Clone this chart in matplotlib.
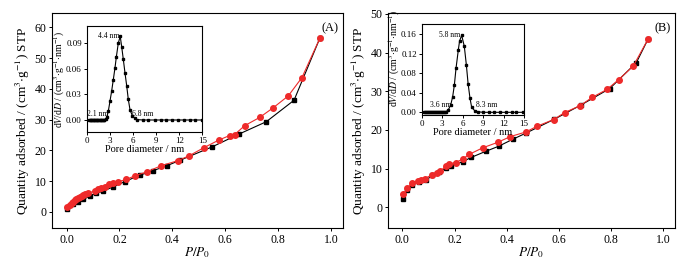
import matplotlib
matplotlib.use("Agg")
import matplotlib.pyplot as plt

plt.rcParams['font.family'] = ['Liberation Serif', 'DejaVu Serif']
plt.rcParams['mathtext.fontset'] = 'stix'

# ---------- Panel A data ----------
adsA_x = [0.003, 0.025, 0.044, 0.063, 0.088, 0.113, 0.138, 0.176, 0.22, 0.277,
          0.325, 0.38, 0.43, 0.55, 0.65, 0.755, 0.86, 0.957]
adsA_y = [0.8, 2.5, 3.3, 4.0, 5.1, 6.0, 6.7, 8.1, 9.8, 11.9,
          13.3, 15.0, 16.8, 21.1, 25.2, 29.3, 36.3, 56.4]
desA_x = [0.002, 0.012, 0.019, 0.025, 0.031, 0.037, 0.044, 0.05, 0.057, 0.063, 0.069, 0.08,
          0.107, 0.119, 0.132, 0.145, 0.161, 0.176, 0.195, 0.226, 0.258, 0.304,
          0.358, 0.42, 0.463, 0.518, 0.575, 0.616, 0.635, 0.673, 0.73, 0.782,
          0.838, 0.89, 0.957]
desA_y = [1.4, 2.2, 2.9, 3.3, 3.8, 4.0, 4.4, 4.7, 5.1, 5.4, 5.8, 6.1,
          6.7, 7.3, 7.6, 8.1, 8.9, 9.2, 9.8, 10.5, 11.7, 13.0,
          15.0, 16.6, 18.2, 20.8, 23.3, 24.8, 25.1, 28.0, 30.7, 33.9,
          37.7, 43.7, 56.4]

psdA_d = [0.3, 0.4, 0.5, 0.6, 0.7, 0.8, 0.9, 1.0, 1.1, 1.2, 1.3, 1.4, 1.5, 1.6, 1.7,
          1.8, 1.9, 2.0, 2.1, 2.2, 2.3, 2.45, 2.6, 2.8, 3.02, 3.24, 3.45, 3.67, 3.85,
          4.1, 4.35, 4.55, 4.75, 4.97, 5.19, 5.4, 5.62, 5.92, 6.27, 6.5, 7.3, 8.0,
          8.8, 9.6, 10.3, 11.1, 11.9, 12.6, 13.4, 14.1, 14.9]
psdA_v = [0.0, 0.0, 0.0, 0.0, 0.0, 0.0, 0.0, 0.0, 0.0, 0.0, 0.0, 0.0, 0.0, 0.0, 0.0,
          0.0, 0.0, 0.0, 0.0001, 0.0002, 0.0004, 0.0008, 0.003, 0.010, 0.022, 0.034,
          0.047, 0.061, 0.074, 0.090, 0.098, 0.085, 0.071, 0.055, 0.040, 0.024,
          0.012, 0.005, 0.002, 0.0005, 0.0, 0.0, 0.0, 0.0, 0.0, 0.0, 0.0, 0.0,
          0.0, 0.0, 0.0]

# ---------- Panel B data ----------
adsB_x = [0.003, 0.019, 0.038, 0.064, 0.09, 0.115, 0.141, 0.167, 0.186, 0.231,
          0.263, 0.32, 0.369, 0.423, 0.474, 0.583, 0.686, 0.795, 0.897, 0.942]
adsB_y = [2.1, 4.6, 5.9, 6.6, 7.0, 8.3, 9.2, 10.2, 10.7, 11.8,
          12.9, 14.5, 15.8, 17.6, 19.2, 22.8, 26.5, 30.7, 37.4, 43.5]
desB_x = [0.004, 0.019, 0.038, 0.06, 0.073, 0.085, 0.112, 0.132, 0.145, 0.167, 0.18,
          0.205, 0.231, 0.256, 0.308, 0.365, 0.414, 0.474, 0.517, 0.58, 0.622,
          0.682, 0.727, 0.785, 0.829, 0.885, 0.942]
desB_y = [3.4, 4.9, 6.4, 6.8, 7.0, 7.4, 8.4, 9.0, 9.3, 10.7, 11.3,
          11.6, 12.5, 13.7, 15.4, 16.8, 18.3, 19.5, 21.0, 22.7, 24.5,
          26.3, 28.4, 30.5, 33.0, 36.5, 43.5]

psdB_d = [0.3, 0.45, 0.6, 0.75, 0.9, 1.05, 1.2, 1.35, 1.5, 1.65, 1.8, 1.95, 2.1, 2.25,
          2.4, 2.55, 2.7, 2.85, 3.0, 3.15, 3.3, 3.45, 3.6, 3.9, 4.25, 4.54, 4.79,
          5.03, 5.37, 5.55, 5.86, 6.25, 6.55, 6.8, 7.08, 7.33, 7.8, 8.3, 9.0, 9.9,
          10.6, 11.5, 12.4, 13.2, 13.9, 14.8]
psdB_v = [0.0, 0.0, 0.0, 0.0, 0.0, 0.0, 0.0, 0.0, 0.0, 0.0, 0.0, 0.0, 0.0, 0.0,
          0.0, 0.0, 0.0, 0.0, 0.0, 0.0002, 0.0004, 0.0008, 0.0015, 0.005, 0.015,
          0.032, 0.056, 0.090, 0.128, 0.146, 0.158, 0.135, 0.097, 0.059, 0.029,
          0.010, 0.003, 0.001, 0.0, 0.0, 0.0, 0.0, 0.0, 0.0, 0.0, 0.0]

main_xticks = [0.0, 0.2, 0.4, 0.6, 0.8, 1.0]
main_xticklabels = ['0.0', '0.2', '0.4', '0.6', '0.8', '1.0']
yticksA = [0, 10, 20, 30, 40, 50, 60]
yticksB = [0, 10, 20, 30, 40, 50]
inset_xticks = [0, 3, 6, 9, 12, 15]
insetA_yticks = [0.00, 0.03, 0.06, 0.09]
insetB_yticks = [0.00, 0.04, 0.08, 0.12, 0.16]

W, H = 690, 267
fig = plt.figure(figsize=(W / 100, H / 100), dpi=100)


def rect(l, t, r, b):
    return [l / W, (H - b) / H, (r - l) / W, (b - t) / H]


ylab = r'Quantity adsorbed / (cm$^{3}$$\cdot$g$^{-1}$) STP'
xlab = r'$P/P_{0}$'
inlab = r'd$V$/d$D$ / (cm$^{3}$$\cdot$g$^{-1}$$\cdot$nm$^{-1}$)'


def style(ax, fs, tl=2.5):
    for s in ax.spines.values():
        s.set_linewidth(0.8)
    ax.tick_params(direction='out', length=tl, width=0.7, labelsize=fs, pad=1.5)


def main_panel(box, ax_x, ax_y, de_x, de_y, yticks, ylim, letter):
    ax = fig.add_axes(rect(*box))
    ax.plot(ax_x, ax_y, '-s', color='black', ms=3.2, lw=0.8, zorder=2)
    ax.plot(de_x, de_y, '-o', color='#ee2a2a', mfc='#ee2a2a', mec='#ee2a2a',
            ms=4.0, lw=0.8, zorder=3)
    ax.set_xlim(-0.055, 1.045)
    ax.set_ylim(*ylim)
    ax.set_xticks(main_xticks)
    ax.set_xticklabels(main_xticklabels)
    ax.set_yticks(yticks)
    style(ax, 8.5)
    ax.set_xlabel(xlab, fontsize=9.5, labelpad=0)
    ax.set_ylabel(ylab, fontsize=9.5, labelpad=2)
    ax.text(0.985, 0.955, letter, transform=ax.transAxes, ha='right', va='top',
            fontsize=9)
    return ax


def inset(box, d, v, yticks, ylim, lab_xy):
    ax = fig.add_axes(rect(*box))
    ax.plot(d, v, '-s', color='black', ms=1.6, lw=0.8)
    ax.set_xlim(0, 15)
    ax.set_ylim(*ylim)
    ax.set_xticks(inset_xticks)
    ax.set_yticks(yticks)
    ax.set_yticklabels(['{:.2f}'.format(t) for t in yticks])
    style(ax, 6.5, tl=2)
    ax.set_xlabel('Pore diameter / nm', fontsize=7.5, labelpad=0)
    ax.set_ylabel(inlab, fontsize=7, labelpad=1)
    ax.yaxis.set_label_coords(*lab_xy)
    ax.yaxis.label.set_zorder(10)
    return ax


main_panel((52, 13, 343, 228), adsA_x, adsA_y, desA_x, desA_y, yticksA, (-5.3, 64.7), '(A)')
main_panel((388, 13, 675, 228), adsB_x, adsB_y, desB_x, desB_y, yticksB, (-5.3, 50.2), '(B)')

iA = inset((86.7, 26, 202.3, 131.7), psdA_d, psdA_v, insetA_yticks, (-0.0137, 0.110), (-0.17, 0.5))
iA.text(4.3, 0.0985, '4.4 nm', ha='right', va='center', fontsize=5.5)
iA.text(0.1, 0.0075, '2.1 nm', ha='left', va='center', fontsize=5.5)
iA.text(5.9, 0.0075, '6.8 nm', ha='left', va='center', fontsize=5.5)

iB = inset((421.7, 24.3, 524, 115), psdB_d, psdB_v, insetB_yticks, (-0.0055, 0.1805), (-0.19, 0.62))
iB.text(5.7, 0.159, '5.8 nm', ha='right', va='center', fontsize=5.5)
iB.text(1.2, 0.014, '3.6 nm', ha='left', va='center', fontsize=5.5)
iB.text(7.9, 0.014, '8.3 nm', ha='left', va='center', fontsize=5.5)

fig.savefig('out.png', dpi=100)
